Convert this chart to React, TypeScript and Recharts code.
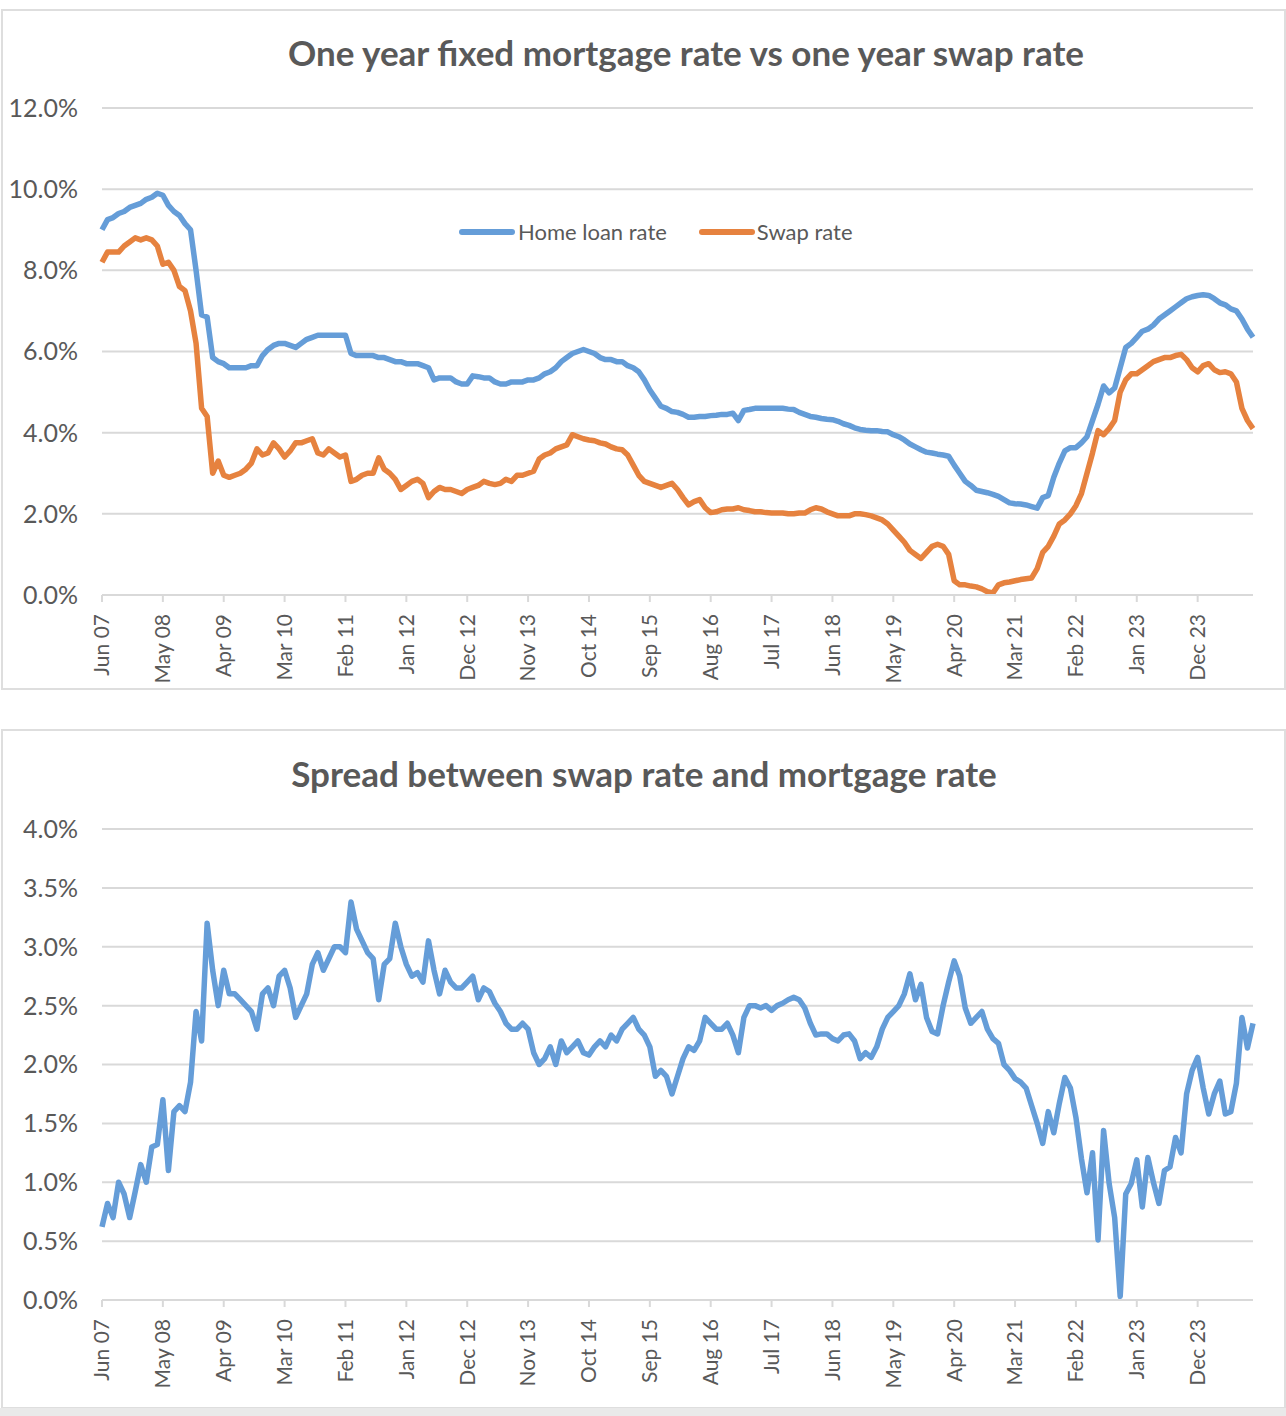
import React from "react";
import { LineChart, Line, XAxis, YAxis, CartesianGrid } from "recharts";

const FONT = "Lato, 'Liberation Sans', Arial, sans-serif";
const TEXT = "#595959";
const GRID = "#d9d9d9";
const BLUE = "#659dd8";
const ORANGE = "#e6823f";

// monthly categories, Jun 07 .. Oct 24
const monthNames = ["Jan", "Feb", "Mar", "Apr", "May", "Jun", "Jul", "Aug", "Sep", "Oct", "Nov", "Dec"];
const startYear = 2007;
const startMonth = 5; // June

// the x axis labels every 11 months
const tickLabels = [
  "Jun 07", "May 08", "Apr 09", "Mar 10", "Feb 11", "Jan 12", "Dec 12", "Nov 13", "Oct 14", "Sep 15",
  "Aug 16", "Jul 17", "Jun 18", "May 19", "Apr 20", "Mar 21", "Feb 22", "Jan 23", "Dec 23",
];

const rateTicks = [0, 2, 4, 6, 8, 10, 12];
const spreadTicks = [0, 0.5, 1, 1.5, 2, 2.5, 3, 3.5, 4];

// one year fixed home loan rate (%), one row per Jun..May year
const homeLoanRate = [
  9.0, 9.25, 9.3, 9.4, 9.45, 9.55, 9.6, 9.65, 9.75, 9.8, 9.9, 9.85,
  9.6, 9.45, 9.35, 9.15, 9.0, 8.0, 6.9, 6.85, 5.85, 5.75, 5.7, 5.6,
  5.6, 5.6, 5.6, 5.65, 5.65, 5.9, 6.05, 6.15, 6.2, 6.2, 6.15, 6.1,
  6.2, 6.3, 6.35, 6.4, 6.4, 6.4, 6.4, 6.4, 6.4, 5.95, 5.9, 5.9,
  5.9, 5.9, 5.85, 5.85, 5.8, 5.75, 5.75, 5.7, 5.7, 5.7, 5.65, 5.6,
  5.3, 5.35, 5.35, 5.35, 5.25, 5.2, 5.2, 5.4, 5.38, 5.35, 5.35, 5.25,
  5.2, 5.2, 5.25, 5.25, 5.25, 5.3, 5.3, 5.35, 5.45, 5.5, 5.6, 5.75,
  5.85, 5.95, 6.0, 6.05, 6.0, 5.95, 5.85, 5.8, 5.8, 5.75, 5.75, 5.65,
  5.6, 5.5, 5.3, 5.05, 4.85, 4.65, 4.6, 4.52, 4.5, 4.45, 4.38, 4.38,
  4.4, 4.4, 4.42, 4.43, 4.45, 4.45, 4.48, 4.3, 4.55, 4.57, 4.6, 4.6,
  4.6, 4.6, 4.6, 4.6, 4.58, 4.57, 4.5, 4.45, 4.4, 4.38, 4.35, 4.33,
  4.32, 4.28, 4.22, 4.18, 4.12, 4.08, 4.06, 4.05, 4.05, 4.03, 4.02, 3.95,
  3.9, 3.82, 3.72, 3.65, 3.58, 3.52, 3.5, 3.47, 3.45, 3.42, 3.2, 3.0,
  2.8, 2.7, 2.58, 2.55, 2.52, 2.48, 2.43, 2.35, 2.27, 2.25, 2.24, 2.22,
  2.18, 2.14, 2.4, 2.45, 2.9, 3.25, 3.55, 3.63, 3.63, 3.75, 3.9, 4.3,
  4.7, 5.15, 4.98, 5.1, 5.6, 6.1, 6.2, 6.35, 6.5, 6.55, 6.65, 6.8,
  6.9, 7.0, 7.1, 7.2, 7.3, 7.35, 7.38, 7.4, 7.38, 7.3, 7.2, 7.15,
  7.05, 7.0, 6.8, 6.55, 6.35,
];

// one year swap rate (%)
const swapRate = [
  8.2, 8.45, 8.45, 8.45, 8.6, 8.7, 8.8, 8.75, 8.8, 8.75, 8.6, 8.15,
  8.2, 8.0, 7.6, 7.5, 7.0, 6.2, 4.6, 4.4, 3.0, 3.3, 2.95, 2.9,
  2.95, 3.0, 3.1, 3.25, 3.6, 3.45, 3.5, 3.75, 3.6, 3.4, 3.55, 3.75,
  3.75, 3.8, 3.85, 3.5, 3.45, 3.6, 3.5, 3.4, 3.45, 2.8, 2.85, 2.95,
  3.0, 3.0, 3.38, 3.1, 3.0, 2.85, 2.6, 2.7, 2.8, 2.85, 2.75, 2.4,
  2.55, 2.65, 2.6, 2.6, 2.55, 2.5, 2.6, 2.65, 2.7, 2.8, 2.75, 2.72,
  2.75, 2.85, 2.8, 2.95, 2.95, 3.0, 3.05, 3.35, 3.45, 3.5, 3.6, 3.65,
  3.7, 3.95, 3.9, 3.85, 3.82, 3.8, 3.75, 3.72, 3.65, 3.6, 3.58, 3.45,
  3.2, 2.95, 2.8, 2.75, 2.7, 2.65, 2.7, 2.75, 2.6, 2.4, 2.22, 2.3,
  2.35, 2.15, 2.03, 2.05, 2.1, 2.12, 2.12, 2.15, 2.1, 2.08, 2.05, 2.05,
  2.03, 2.02, 2.02, 2.02, 2.0, 2.0, 2.02, 2.02, 2.1, 2.15, 2.12, 2.05,
  2.0, 1.95, 1.95, 1.95, 2.0, 2.0, 1.98, 1.95, 1.9, 1.85, 1.75, 1.6,
  1.45, 1.3, 1.1, 1.0, 0.9, 1.05, 1.2, 1.25, 1.2, 1.0, 0.35, 0.25,
  0.25, 0.22, 0.2, 0.15, 0.08, 0.05, 0.25, 0.3, 0.32, 0.35, 0.38, 0.4,
  0.42, 0.65, 1.05, 1.2, 1.45, 1.75, 1.85, 2.0, 2.2, 2.5, 3.0, 3.5,
  4.05, 3.95, 4.1, 4.3, 5.0, 5.3, 5.45, 5.45, 5.55, 5.65, 5.75, 5.8,
  5.85, 5.85, 5.9, 5.93, 5.8, 5.6, 5.5, 5.65, 5.7, 5.55, 5.48, 5.5,
  5.45, 5.25, 4.6, 4.3, 4.1,
];

// spread between swap rate and mortgage rate (%)
const spread = [
  0.62, 0.82, 0.7, 1.0, 0.9, 0.7, 0.92, 1.15, 1.0, 1.3, 1.32, 1.7,
  1.1, 1.6, 1.65, 1.6, 1.85, 2.45, 2.2, 3.2, 2.8, 2.5, 2.8, 2.6,
  2.6, 2.55, 2.5, 2.45, 2.3, 2.6, 2.65, 2.5, 2.75, 2.8, 2.65, 2.4,
  2.5, 2.6, 2.85, 2.95, 2.8, 2.9, 3.0, 3.0, 2.95, 3.38, 3.15, 3.05,
  2.95, 2.9, 2.55, 2.85, 2.9, 3.2, 3.0, 2.85, 2.75, 2.78, 2.7, 3.05,
  2.8, 2.6, 2.8, 2.7, 2.65, 2.65, 2.7, 2.75, 2.55, 2.65, 2.62, 2.52,
  2.45, 2.35, 2.3, 2.3, 2.35, 2.3, 2.1, 2.0, 2.05, 2.15, 2.0, 2.2,
  2.1, 2.15, 2.2, 2.1, 2.08, 2.15, 2.2, 2.15, 2.25, 2.2, 2.3, 2.35,
  2.4, 2.3, 2.25, 2.15, 1.9, 1.95, 1.9, 1.75, 1.9, 2.05, 2.15, 2.12,
  2.2, 2.4, 2.35, 2.3, 2.3, 2.35, 2.25, 2.1, 2.4, 2.5, 2.5, 2.48,
  2.5, 2.46, 2.5, 2.52, 2.55, 2.57, 2.55, 2.48, 2.35, 2.25, 2.26, 2.26,
  2.22, 2.2, 2.25, 2.26, 2.2, 2.05, 2.1, 2.06, 2.15, 2.3, 2.4, 2.45,
  2.5, 2.6, 2.77, 2.55, 2.68, 2.4, 2.28, 2.26, 2.5, 2.7, 2.88, 2.75,
  2.48, 2.35, 2.4, 2.45, 2.3, 2.22, 2.18, 2.0, 1.95, 1.88, 1.85, 1.8,
  1.65, 1.5, 1.33, 1.6, 1.42, 1.67, 1.89, 1.8, 1.55, 1.2, 0.91, 1.25,
  0.51, 1.44, 0.99, 0.7, 0.03, 0.9, 0.99, 1.19, 0.79, 1.21, 1.0, 0.82,
  1.1, 1.13, 1.38, 1.25, 1.75, 1.95, 2.06, 1.8, 1.58, 1.75, 1.86, 1.58,
  1.6, 1.84, 2.4, 2.14, 2.35,
];

const months = homeLoanRate.map((_, i) => {
  const t = startMonth + i;
  const yy = String((startYear + Math.floor(t / 12)) % 100).padStart(2, "0");
  return `${monthNames[t % 12]} ${yy}`;
});

const rateData = months.map((month, i) => ({ month, home: homeLoanRate[i], swap: swapRate[i] }));
const spreadData = months.map((month, i) => ({ month, spread: spread[i] }));

const RotatedTick = ({ x, y, payload }: any) => (
  <g transform={`translate(${x},${y + 10})`}>
    <text
      x={0}
      y={0}
      dy="0.35em"
      textAnchor="end"
      transform="rotate(-90)"
      fill={TEXT}
      fontSize={21}
      fontFamily={FONT}
    >
      {payload.value}
    </text>
  </g>
);

// legend drawn as an overlay so it does not take space from the plot
const RateLegend = () => (
  <div
    style={{
      position: "absolute",
      left: 456,
      top: 207,
      display: "flex",
      alignItems: "center",
      fontFamily: FONT,
      fontSize: 22,
      color: TEXT,
      whiteSpace: "nowrap",
      zIndex: 2,
    }}
  >
    <span style={{ width: 56, height: 6, borderRadius: 3, background: BLUE, display: "inline-block" }} />
    <span style={{ marginLeft: 3 }}>Home loan rate</span>
    <span style={{ width: 56, height: 6, borderRadius: 3, background: ORANGE, display: "inline-block", marginLeft: 32 }} />
    <span style={{ marginLeft: 2 }}>Swap rate</span>
  </div>
);

const boxStyle: React.CSSProperties = {
  position: "absolute",
  left: 1,
  width: 1281,
  border: "2px solid #dedede",
  background: "#fff",
};

const titleStyle: React.CSSProperties = {
  position: "absolute",
  fontFamily: FONT,
  fontWeight: 700,
  fontSize: 35,
  color: TEXT,
  whiteSpace: "nowrap",
  transform: "translate(-50%, -50%)",
};

const yTick = { fill: TEXT, fontSize: 25, fontFamily: FONT };

export default function App() {
  return (
    <div style={{ position: "absolute", left: 0, top: 0, width: 1286, height: 1416, background: "#fff" }}>
      {/* top chart */}
      <div style={{ ...boxStyle, top: 9, height: 677 }}>
        <div style={{ ...titleStyle, left: 683, top: 41 }}>One year fixed mortgage rate vs one year swap rate</div>
        <RateLegend />
        <LineChart width={1281} height={677} data={rateData} margin={{ top: 97, right: 31, bottom: 0, left: 0 }}>
          <CartesianGrid vertical={false} stroke={GRID} strokeWidth={2} />
          <XAxis
            dataKey="month"
            ticks={tickLabels}
            interval={0}
            height={93}
            tickSize={7}
            tickLine={{ stroke: GRID, strokeWidth: 2 }}
            axisLine={{ stroke: GRID, strokeWidth: 2 }}
            tick={<RotatedTick />}
          />
          <YAxis
            domain={[0, 12]}
            ticks={rateTicks}
            width={99}
            axisLine={false}
            tickLine={false}
            tickSize={0}
            tickMargin={24}
            tick={yTick}
            tickFormatter={(v: number) => `${v.toFixed(1)}%`}
          />
          <Line
            type="linear"
            dataKey="home"
            name="Home loan rate"
            stroke={BLUE}
            strokeWidth={5.5}
            dot={false}
            strokeLinejoin="round"
            isAnimationActive={false}
          />
          <Line
            type="linear"
            dataKey="swap"
            name="Swap rate"
            stroke={ORANGE}
            strokeWidth={5.5}
            dot={false}
            strokeLinejoin="round"
            isAnimationActive={false}
          />
        </LineChart>
      </div>

      {/* bottom chart */}
      <div style={{ ...boxStyle, top: 729, height: 676 }}>
        <div style={{ ...titleStyle, left: 641, top: 42 }}>Spread between swap rate and mortgage rate</div>
        <LineChart width={1281} height={676} data={spreadData} margin={{ top: 98, right: 31, bottom: 0, left: 0 }}>
          <CartesianGrid vertical={false} stroke={GRID} strokeWidth={2} />
          <XAxis
            dataKey="month"
            ticks={tickLabels}
            interval={0}
            height={107}
            tickSize={7}
            tickLine={{ stroke: GRID, strokeWidth: 2 }}
            axisLine={{ stroke: GRID, strokeWidth: 2 }}
            tick={<RotatedTick />}
          />
          <YAxis
            domain={[0, 4]}
            ticks={spreadTicks}
            width={99}
            axisLine={false}
            tickLine={false}
            tickSize={0}
            tickMargin={24}
            tick={yTick}
            tickFormatter={(v: number) => `${v.toFixed(1)}%`}
          />
          <Line
            type="linear"
            dataKey="spread"
            name="Spread"
            stroke={BLUE}
            strokeWidth={5.5}
            dot={false}
            strokeLinejoin="round"
            isAnimationActive={false}
          />
        </LineChart>
      </div>
      <div style={{ position: "absolute", left: 0, top: 1408, width: 1286, height: 8, background: "#e9e9e9" }} />
    </div>
  );
}
